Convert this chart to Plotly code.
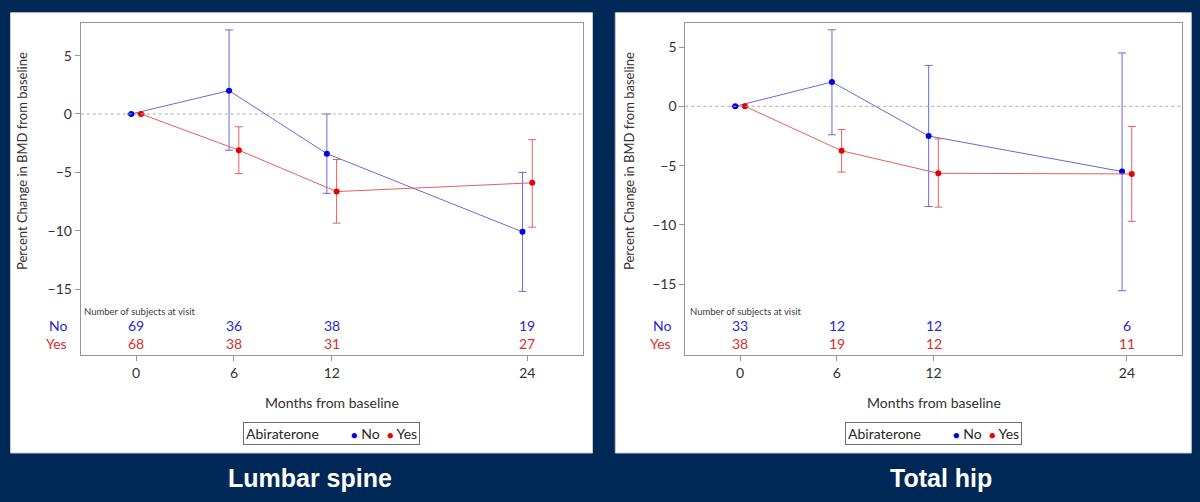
import plotly.graph_objects as go

months = [0, 6, 12, 24]
tick_vals_y = [5, 0, -5, -10, -15]

# Lumbar spine
ls_no_mean = [0, 2.0, -3.4, -10.1]
ls_no_upper = [0, 7.2, 0.0, -5.0]
ls_no_lower = [0, -3.1, -6.8, -15.2]
ls_yes_mean = [0, -3.1, -6.65, -5.9]
ls_yes_upper = [0, -1.1, -3.9, -2.2]
ls_yes_lower = [0, -5.1, -9.35, -9.7]
ls_no_n = [69, 36, 38, 19]
ls_yes_n = [68, 38, 31, 27]

# Total hip
th_no_mean = [0, 2.05, -2.5, -5.5]
th_no_upper = [0, 6.45, 3.45, 4.5]
th_no_lower = [0, -2.4, -8.45, -15.55]
th_yes_mean = [0, -3.75, -5.65, -5.7]
th_yes_upper = [0, -1.95, -2.75, -1.7]
th_yes_lower = [0, -5.55, -8.5, -9.7]
th_no_n = [33, 12, 12, 6]
th_yes_n = [38, 19, 12, 11]

panel_titles = ["Lumbar spine", "Total hip"]
group_names = ["No", "Yes"]
legend_title = "Abiraterone"
y_title = "Percent Change in BMD from baseline"
x_title = "Months from baseline"
count_title = "Number of subjects at visit"

W, H = 1200, 502
NAVY = "rgb(0,40,86)"
BLUE_M = "rgb(0,0,225)"
BLUE_L = "rgb(105,105,215)"
RED_M = "rgb(230,0,0)"
RED_L = "rgb(232,95,95)"
BLUE_T = "rgb(40,40,200)"
RED_T = "rgb(220,45,45)"
FONT = "Lato"
DODGE = 0.3


def px(x):
    return x / W


def py(y):
    return 1 - y / H


fig = go.Figure()

panels = [
    dict(xa="x", ya="y",
         no=(ls_no_mean, ls_no_upper, ls_no_lower), yes=(ls_yes_mean, ls_yes_upper, ls_yes_lower),
         n_no=ls_no_n, n_yes=ls_yes_n,
         frame=(80.7, 582.8), white=(10.5, 592.5), yrange=[-20.65, 7.82],
         ytitle_x=22, lab_x=69, cnt_x=82, leg_x=331.5, title_x=310),
    dict(xa="x2", ya="y2",
         no=(th_no_mean, th_no_upper, th_no_lower), yes=(th_yes_mean, th_yes_upper, th_yes_lower),
         n_no=th_no_n, n_yes=th_yes_n,
         frame=(685.3, 1181.7), white=(615.3, 1191.3), yrange=[-20.97, 7.05],
         ytitle_x=629, lab_x=673, cnt_x=688, leg_x=933.5, title_x=941),
]

annotations = []
shapes = []

for i, p in enumerate(panels):
    for gname, (mean, up, lo), off, mc, lc in [
        (group_names[0], p["no"], -DODGE, BLUE_M, BLUE_L),
        (group_names[1], p["yes"], DODGE, RED_M, RED_L),
    ]:
        xs = [m + off for m in months]
        fig.add_trace(go.Scatter(
            x=xs, y=mean, mode="lines+markers", xaxis=p["xa"], yaxis=p["ya"],
            name=gname,
            line=dict(color=lc, width=1),
            marker=dict(color=mc, size=6),
            error_y=dict(type="data", symmetric=False,
                         array=[u - m for u, m in zip(up, mean)],
                         arrayminus=[m - l for m, l in zip(mean, lo)],
                         color=lc, thickness=1, width=4),
            showlegend=False, hoverinfo="skip",
        ))

    # white panel background
    shapes.append(dict(type="rect", xref="paper", yref="paper",
                       x0=px(p["white"][0]), x1=px(p["white"][1]),
                       y0=py(453), y1=py(12.7),
                       fillcolor="white", line=dict(color="rgb(200,200,200)", width=1),
                       layer="below"))
    # zero reference line
    shapes.append(dict(type="line", xref=p["xa"] + " domain", yref=p["ya"],
                       x0=0, x1=1, y0=0, y1=0,
                       line=dict(color="rgb(170,170,170)", width=1, dash="dot")))

    # y title
    annotations.append(dict(text=y_title, xref="paper", yref="paper",
                            x=px(p["ytitle_x"]), y=py(161), textangle=-90,
                            showarrow=False, xanchor="center", yanchor="middle",
                            font=dict(family=FONT, size=13, color="rgb(50,50,50)")))
    # x title
    annotations.append(dict(text=x_title, xref="paper", yref="paper",
                            x=px((p["frame"][0] + p["frame"][1]) / 2), y=py(402),
                            showarrow=False, xanchor="center", yanchor="middle",
                            font=dict(family=FONT, size=14, color="rgb(50,50,50)")))
    # count header
    annotations.append(dict(text=count_title, xref="paper", yref="paper",
                            x=px(p["cnt_x"]), y=py(311), showarrow=False,
                            xanchor="left", yanchor="middle",
                            font=dict(family=FONT, size=9.5, color="rgb(60,60,60)")))
    # row labels
    for lab, yy, col in [(group_names[0], 325, BLUE_T), (group_names[1], 343, RED_T)]:
        annotations.append(dict(text=lab, xref="paper", yref="paper",
                                x=px(p["lab_x"]), y=py(yy), showarrow=False,
                                xanchor="right", yanchor="middle",
                                font=dict(family=FONT, size=14, color=col)))
    # counts
    for counts, yy, col in [(p["n_no"], 325, BLUE_T), (p["n_yes"], 343, RED_T)]:
        for m, n in zip(months, counts):
            annotations.append(dict(text=str(n), xref=p["xa"], yref="paper",
                                    x=m, y=py(yy), showarrow=False,
                                    xanchor="center", yanchor="middle",
                                    font=dict(family=FONT, size=14, color=col)))
    # legend box
    leg_text = (legend_title + "&nbsp;" * 9
                + "<span style='color:%s;font-size:11px'>●</span> %s&nbsp;&nbsp;"
                  "<span style='color:%s;font-size:11px'>●</span> %s"
                % (BLUE_M, group_names[0], RED_M, group_names[1]))
    annotations.append(dict(text=leg_text, xref="paper", yref="paper",
                            x=px(p["leg_x"]), y=py(433.5), showarrow=False,
                            xanchor="center", yanchor="middle",
                            bordercolor="rgb(110,110,110)", borderwidth=1, borderpad=2,
                            bgcolor="white",
                            font=dict(family=FONT, size=14, color="rgb(40,40,40)")))
    # panel title
    annotations.append(dict(text="<b>" + panel_titles[i] + "</b>", xref="paper", yref="paper",
                            x=px(p["title_x"]), y=py(478), showarrow=False,
                            xanchor="center", yanchor="middle",
                            font=dict(family="Liberation Sans", size=25, color="white")))

axis_common = dict(showline=True, linecolor="rgb(150,150,150)", linewidth=1, mirror=True,
                   ticks="outside", ticklen=5, tickcolor="rgb(150,150,150)",
                   showgrid=False, zeroline=False,
                   tickfont=dict(family=FONT, size=14, color="rgb(50,50,50)"))

layout_axes = {}
for i, p in enumerate(panels):
    sx = "" if i == 0 else "2"
    layout_axes["xaxis" + sx] = dict(domain=[px(p["frame"][0]), px(p["frame"][1])],
                                     range=[-3.4, 27.4], tickvals=months,
                                     anchor="y" + sx, **axis_common)
    layout_axes["yaxis" + sx] = dict(domain=[py(355), py(22.7)], range=p["yrange"],
                                     tickvals=tick_vals_y, anchor="x" + sx, **axis_common)

fig.update_layout(
    width=W, height=H, margin=dict(l=0, r=0, t=0, b=0),
    paper_bgcolor=NAVY, plot_bgcolor="white",
    shapes=shapes, annotations=annotations,
    showlegend=False,
    **layout_axes,
)

fig.write_html("out.html")
